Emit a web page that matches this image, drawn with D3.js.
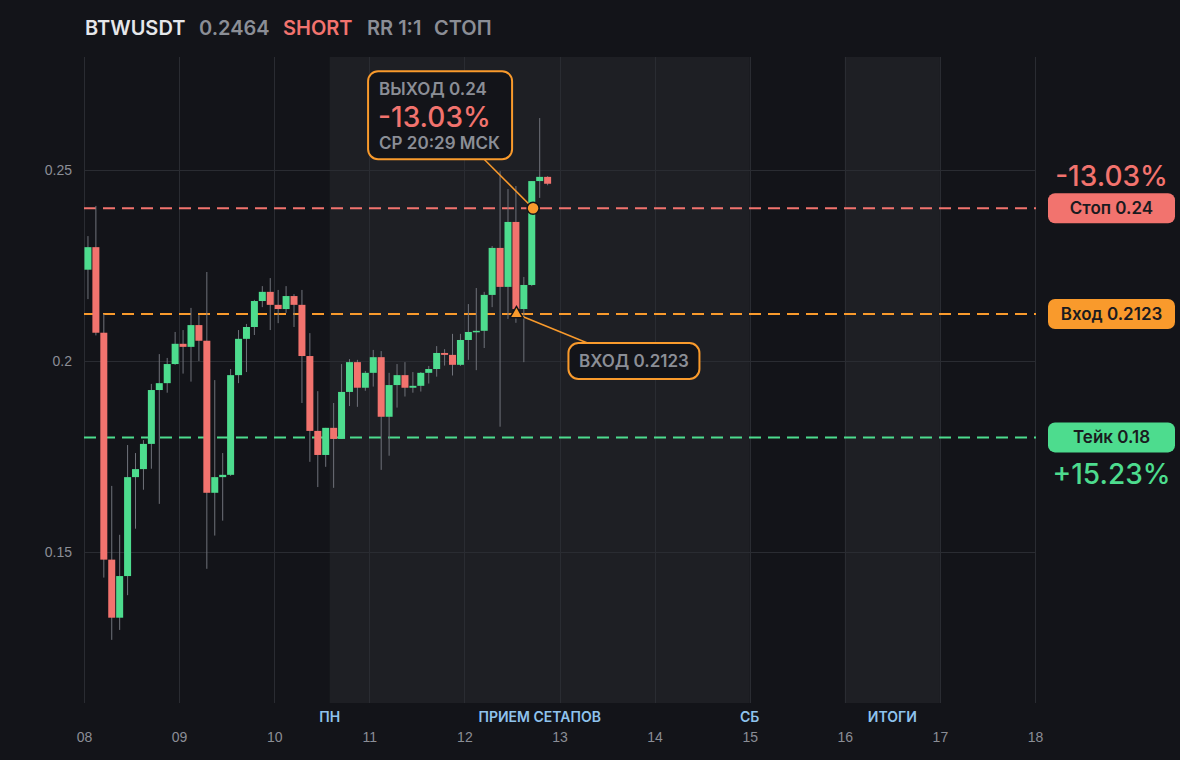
<!DOCTYPE html>
<html>
<head>
<meta charset="utf-8">
<script src="https://cdn.jsdelivr.net/npm/d3@7"></script>
<style>
  html, body { margin: 0; padding: 0; background: #131419; }
  svg { display: block; font-family: Inter, "Noto Sans", sans-serif; }
  .axis text { fill: #8b8e96; font-size: 14px; }
</style>
</head>
<body>
<div id="chart"><svg></svg></div>
<script>
// Header
const symbol = 'BTWUSDT';
const lastPrice = '0.2464';
const side = 'SHORT';
const riskReward = 'RR 1:1';
const status = 'СТОП';

// 2h candles, starting 08 00:00 UTC
const firstCandle = '2025-03-08T00:00:00Z';
const candleHours = 2;
const opens  = [0.2239, 0.2298, 0.2074, 0.1480, 0.1328, 0.1437, 0.1696, 0.1717, 0.1783, 0.1924,
                0.1942, 0.1992, 0.2045, 0.2037, 0.2094, 0.2053, 0.1655, 0.1696, 0.1702, 0.1963,
                0.2058, 0.2089, 0.2157, 0.2181, 0.2147, 0.2136, 0.2170, 0.2147, 0.2013, 0.1817,
                0.1754, 0.1825, 0.1796, 0.1919, 0.1997, 0.1930, 0.1969, 0.2010, 0.1854, 0.1937,
                0.1963, 0.1930, 0.1935, 0.1969, 0.1979, 0.2021, 0.2016, 0.1990, 0.2055, 0.2076,
                0.2079, 0.2173, 0.2296, 0.2194, 0.2364, 0.2136, 0.2199, 0.2471, 0.2482];
const highs  = [0.2327, 0.2406, 0.2123, 0.1673, 0.1545, 0.1780, 0.1759, 0.1793, 0.1940, 0.2018,
                0.2008, 0.2076, 0.2081, 0.2139, 0.2120, 0.2233, 0.1950, 0.1759, 0.1979, 0.2081,
                0.2097, 0.2160, 0.2196, 0.2217, 0.2186, 0.2196, 0.2175, 0.2186, 0.2073, 0.1921,
                0.1825, 0.1890, 0.1992, 0.2005, 0.2003, 0.1974, 0.2029, 0.2026, 0.1969, 0.1992,
                0.1997, 0.1971, 0.1971, 0.1987, 0.2039, 0.2031, 0.2071, 0.2071, 0.2149, 0.2191,
                0.2181, 0.2301, 0.2497, 0.2450, 0.2458, 0.2220, 0.2471, 0.2636, 0.2484];
const lows   = [0.2162, 0.2067, 0.1433, 0.1270, 0.1296, 0.1387, 0.1561, 0.1663, 0.1718, 0.1626,
                0.1917, 0.1990, 0.1967, 0.1946, 0.2000, 0.1456, 0.1543, 0.1582, 0.1699, 0.1942,
                0.1971, 0.2068, 0.2141, 0.2081, 0.2099, 0.2126, 0.2089, 0.1890, 0.1736, 0.1670,
                0.1723, 0.1668, 0.1796, 0.1882, 0.1880, 0.1922, 0.1933, 0.1715, 0.1752, 0.1878,
                0.1907, 0.1917, 0.1920, 0.1941, 0.1959, 0.1988, 0.1962, 0.1987, 0.2003, 0.1976,
                0.2034, 0.2141, 0.1828, 0.2110, 0.2100, 0.1997, 0.2196, 0.2427, 0.2460];
const closes = [0.2298, 0.2074, 0.1480, 0.1328, 0.1437, 0.1696, 0.1717, 0.1783, 0.1924, 0.1942,
                0.1992, 0.2045, 0.2037, 0.2094, 0.2053, 0.1655, 0.1696, 0.1702, 0.1963, 0.2058,
                0.2089, 0.2157, 0.2181, 0.2147, 0.2136, 0.2170, 0.2147, 0.2013, 0.1817, 0.1754,
                0.1825, 0.1796, 0.1919, 0.1997, 0.1930, 0.1969, 0.2010, 0.1854, 0.1937, 0.1963,
                0.1930, 0.1935, 0.1969, 0.1979, 0.2021, 0.2016, 0.1990, 0.2055, 0.2076, 0.2079,
                0.2173, 0.2296, 0.2194, 0.2364, 0.2136, 0.2199, 0.2471, 0.2482, 0.2464];

// Axis
const yTicks = [0.15, 0.2, 0.25];
const xDomain = ['2025-03-08T00:00:00Z', '2025-03-18T00:00:00Z'];

// Trade levels
const levelNames  = ['Стоп', 'Вход', 'Тейк'];
const levelPrices = [0.24, 0.2123, 0.18];
const stopPct = '-13.03%';
const takePct = '+15.23%';
const entryTime = '2025-03-12T13:08:00Z';
const exitTime  = '2025-03-12T17:20:00Z';
const exitLabel = 'СР 20:29 МСК';

// Session zones and their labels
const zoneStarts = ['2025-03-10T14:00:00Z', '2025-03-16T00:00:00Z'];
const zoneEnds   = ['2025-03-15T00:00:00Z', '2025-03-17T00:00:00Z'];
const zoneLabels = ['ПН', 'ПРИЕМ СЕТАПОВ', 'СБ', 'ИТОГИ'];
const zoneLabelTimes = ['2025-03-10T14:00:00Z', '2025-03-12T19:00:00Z', '2025-03-15T00:00:00Z', '2025-03-16T12:00:00Z'];

const colors = {
  bg: '#131419', zone: '#1e1f24', grid: '#2a2c32', text: '#8b8e96', header: '#e6e7ea',
  red: '#f2736e', green: '#4ddc8e', orange: '#f99a2c', blue: '#8fc3ee', wick: '#6f727a', dark: '#1a1b20'
};

const margin = { top: 57, right: 145, bottom: 57, left: 84 };
const W = 1180, H = 760;
const width = 1035 - margin.left;
const height = 703 - margin.top;

const svg = d3.select('#chart svg').attr('width', W).attr('height', H);
svg.append('rect').attr('width', W).attr('height', H).attr('fill', colors.bg);

const candles = opens.map((o, i) => ({
  t: d3.utcHour.offset(new Date(firstCandle), i * candleHours),
  o, h: highs[i], l: lows[i], c: closes[i]
}));

const x = d3.scaleUtc().domain(xDomain.map(d => new Date(d))).range([0, width]);
const y = d3.scaleLinear().domain([0.11047, 0.27958]).range([height, 0]);

const chart = svg.append('g').attr('transform', `translate(${margin.left},${margin.top})`);

// Shaded zones
chart.selectAll('.zone')
  .data(zoneStarts.map((s, i) => [new Date(s), new Date(zoneEnds[i])]))
  .join('rect')
  .attr('class', 'zone')
  .attr('x', d => x(d[0]))
  .attr('width', d => x(d[1]) - x(d[0]))
  .attr('y', 0)
  .attr('height', height)
  .attr('fill', colors.zone);

// Grid
const days = x.ticks(d3.utcDay.every(1));
chart.selectAll('.vgrid').data(days).join('line')
  .attr('class', 'vgrid')
  .attr('x1', d => Math.round(x(d)) + 0.5).attr('x2', d => Math.round(x(d)) + 0.5)
  .attr('y1', 0).attr('y2', height)
  .attr('stroke', colors.grid).attr('stroke-width', 1);
chart.selectAll('.hgrid').data(yTicks).join('line')
  .attr('class', 'hgrid')
  .attr('x1', 0).attr('x2', width + 1)
  .attr('y1', d => Math.round(y(d)) + 0.5).attr('y2', d => Math.round(y(d)) + 0.5)
  .attr('stroke', colors.grid).attr('stroke-width', 1);

// Axes
chart.append('g').attr('class', 'axis')
  .call(d3.axisLeft(y).tickValues(yTicks).tickSize(0).tickPadding(12).tickFormat(d3.format('~g')))
  .call(g => g.select('.domain').remove());
chart.append('g').attr('class', 'axis')
  .attr('transform', `translate(0,${height})`)
  .call(d3.axisBottom(x).ticks(d3.utcDay.every(1)).tickSize(0).tickPadding(29).tickFormat(d3.utcFormat('%d')))
  .call(g => g.select('.domain').remove());

// Zone labels
chart.selectAll('.zone-label')
  .data(zoneLabels.map((t, i) => ({ t, at: new Date(zoneLabelTimes[i]) })))
  .join('text')
  .attr('class', 'zone-label')
  .attr('x', d => x(d.at))
  .attr('y', height + 19)
  .attr('text-anchor', 'middle')
  .attr('fill', colors.blue)
  .style('font-size', '14px')
  .style('font-weight', 600)
  .text(d => d.t);

// Level lines
const levelColors = [colors.red, colors.orange, colors.green];
chart.selectAll('.level').data(levelPrices).join('line')
  .attr('class', 'level')
  .attr('x1', 0).attr('x2', width + 1)
  .attr('y1', d => y(d)).attr('y2', d => y(d))
  .attr('stroke', (d, i) => levelColors[i])
  .attr('stroke-width', 2)
  .attr('stroke-dasharray', '12 7');

// Candles
const step = x(d3.utcHour.offset(x.domain()[0], candleHours)) - x(x.domain()[0]);
const bodyW = 7;
const cx = d => x(d.t) + step / 2;
chart.selectAll('.wick').data(candles).join('line')
  .attr('class', 'wick')
  .attr('x1', cx).attr('x2', cx)
  .attr('y1', d => y(d.h)).attr('y2', d => y(d.l))
  .attr('stroke', colors.wick).attr('stroke-width', 1);
chart.selectAll('.body').data(candles).join('rect')
  .attr('class', 'body')
  .attr('x', d => cx(d) - bodyW / 2)
  .attr('width', bodyW)
  .attr('y', d => y(Math.max(d.o, d.c)))
  .attr('height', d => Math.max(1.5, Math.abs(y(d.o) - y(d.c))))
  .attr('fill', d => d.c >= d.o ? colors.green : colors.red);

// Exit callout
const ex = x(new Date(exitTime)), ey = y(levelPrices[0]);
const exitBox = { x: ex - 165, y: ey - 137, w: 144, h: 88 };
chart.append('line')
  .attr('x1', exitBox.x + 116).attr('y1', exitBox.y + exitBox.h)
  .attr('x2', ex).attr('y2', ey)
  .attr('stroke', colors.orange).attr('stroke-width', 1.5);
const eg = chart.append('g').attr('transform', `translate(${exitBox.x},${exitBox.y})`);
eg.append('rect').attr('width', exitBox.w).attr('height', exitBox.h).attr('rx', 10)
  .attr('fill', colors.bg).attr('stroke', colors.orange).attr('stroke-width', 2);
eg.append('text').attr('x', 11).attr('y', 24).attr('fill', colors.text)
  .style('font-size', '17px').style('font-weight', 600).text(`ВЫХОД ${levelPrices[0]}`);
eg.append('text').attr('x', 10).attr('y', 56).attr('fill', colors.red)
  .style('font-size', '28px').style('font-weight', 500).text(stopPct);
eg.append('text').attr('x', 11).attr('y', 78).attr('fill', colors.text)
  .style('font-size', '17px').style('font-weight', 600).text(exitLabel);

// Entry callout
const nx = x(new Date(entryTime)), ny = y(levelPrices[1]);
const entryBox = { x: nx + 52, y: ny + 29, w: 131, h: 36 };
chart.append('line')
  .attr('x1', nx).attr('y1', ny)
  .attr('x2', entryBox.x + 19).attr('y2', entryBox.y)
  .attr('stroke', colors.orange).attr('stroke-width', 1.5);
const ng = chart.append('g').attr('transform', `translate(${entryBox.x},${entryBox.y})`);
ng.append('rect').attr('width', entryBox.w).attr('height', entryBox.h).attr('rx', 10)
  .attr('fill', colors.bg).attr('stroke', colors.orange).attr('stroke-width', 2);
ng.append('text').attr('x', entryBox.w / 2).attr('y', 24).attr('text-anchor', 'middle')
  .attr('fill', colors.text).style('font-size', '17px').style('font-weight', 600)
  .text(`ВХОД ${levelPrices[1]}`);

// Markers
chart.append('path')
  .attr('d', d3.symbol(d3.symbolTriangle, 75)())
  .attr('transform', `translate(${nx},${ny})`)
  .attr('fill', colors.orange).attr('stroke', colors.bg).attr('stroke-width', 1.5);
chart.append('circle')
  .attr('cx', ex).attr('cy', ey).attr('r', 6)
  .attr('fill', colors.orange).attr('stroke', colors.bg).attr('stroke-width', 1.5);

// Right side level tags
const tagX = 1048 - margin.left, tagW = 127, tagH = 30;
const tags = chart.selectAll('.tag').data(levelPrices).join('g')
  .attr('class', 'tag')
  .attr('transform', d => `translate(${tagX},${y(d) - tagH / 2})`);
tags.append('rect').attr('width', tagW).attr('height', tagH).attr('rx', 7)
  .attr('fill', (d, i) => levelColors[i]);
tags.append('text').attr('x', tagW / 2).attr('y', 21).attr('text-anchor', 'middle')
  .attr('fill', colors.dark).style('font-size', '17px').style('font-weight', 600)
  .text((d, i) => `${levelNames[i]} ${d}`);

chart.append('text').attr('x', tagX + tagW / 2).attr('y', y(levelPrices[0]) - 22)
  .attr('text-anchor', 'middle').attr('fill', colors.red)
  .style('font-size', '28px').style('font-weight', 500).text(stopPct);
chart.append('text').attr('x', tagX + tagW / 2).attr('y', y(levelPrices[2]) + 47)
  .attr('text-anchor', 'middle').attr('fill', colors.green)
  .style('font-size', '28px').style('font-weight', 500).text(takePct);

// Header
const header = [
  { t: symbol, c: colors.header },
  { t: lastPrice, c: colors.text },
  { t: side, c: colors.red },
  { t: riskReward, c: colors.text },
  { t: status, c: colors.text }
];
const headerX = [85, 199, 283, 367, 434];
svg.append('g').selectAll('text').data(header).join('text')
  .attr('x', (d, i) => headerX[i])
  .attr('y', 35)
  .attr('fill', d => d.c)
  .style('font-size', '20px')
  .style('font-weight', 600)
  .text(d => d.t);
</script>
</body>
</html>
